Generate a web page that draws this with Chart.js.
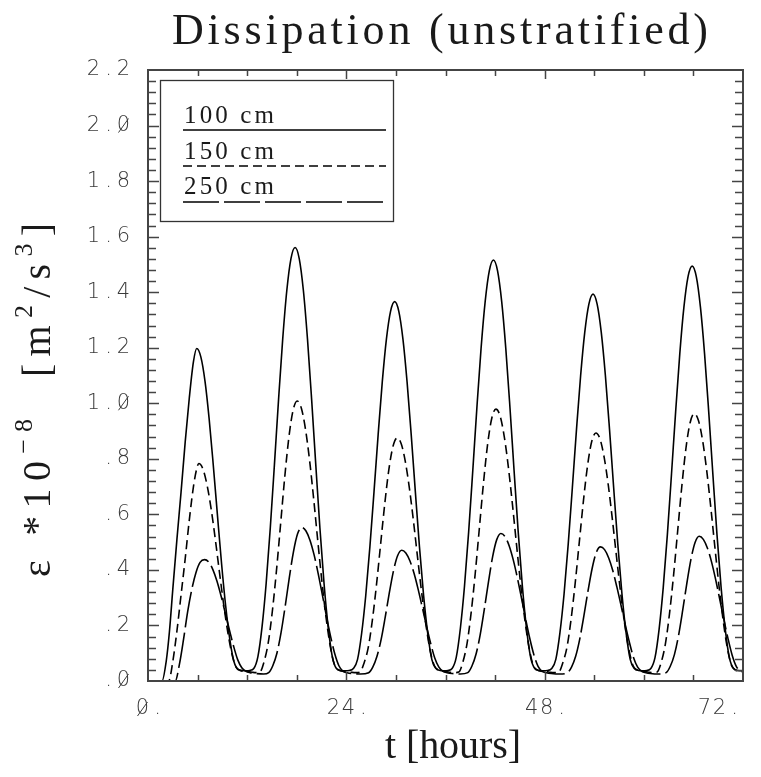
<!DOCTYPE html>
<html lang="en">
<head>
    <meta charset="UTF-8">
    <title>Dissipation (unstratified)</title>
    <script src="https://cdn.jsdelivr.net/npm/chart.js@4.4.1/dist/chart.umd.min.js"></script>
    <style>
        html, body { margin: 0; padding: 0; background: #fff; }
        #chart { display: block; }
    </style>
</head>
<body>
    <canvas id="chart" width="761" height="777"></canvas>

    <script>
        // 100 cm above bed (solid)
        const t100 = [0, 1, 1.7, 2.2, 2.6, 3.0, 3.5, 4.0, 4.5, 5.0, 5.5, 5.9, 6.4, 6.9, 7.4, 7.9, 8.4, 8.9, 9.4, 9.9, 10.4, 10.9, 11.4, 11.9, 12.3,
            12.8, 13.3, 13.8, 14.3, 14.8, 15.3, 15.8, 16.3, 16.8, 17.3, 17.8, 18.3, 18.8, 19.3, 19.8, 20.3, 20.8, 21.3, 21.8, 22.3, 22.8, 23.3, 23.8, 24.35,
            24.85, 25.35, 25.85, 26.35, 26.85, 27.35, 27.85, 28.35, 28.85, 29.35, 29.85, 30.35, 30.85, 31.35, 31.85, 32.35, 32.85, 33.35, 33.85, 34.35, 34.85, 35.35, 35.8,
            36.3, 36.8, 37.3, 37.8, 38.3, 38.8, 39.3, 39.8, 40.3, 40.8, 41.3, 41.8, 42.3, 42.8, 43.3, 43.8, 44.3, 44.8, 45.3, 45.8, 46.3, 46.8, 47.3, 47.8,
            48.35, 48.85, 49.35, 49.85, 50.35, 50.85, 51.35, 51.85, 52.35, 52.85, 53.35, 53.85, 54.35, 54.85, 55.35, 55.85, 56.35, 56.85, 57.35, 57.85, 58.35, 58.85, 59.35, 59.85,
            60.35, 60.85, 61.35, 61.85, 62.35, 62.85, 63.35, 63.85, 64.35, 64.85, 65.35, 65.85, 66.35, 66.85, 67.35, 67.85, 68.35, 68.85, 69.35, 69.85, 70.35, 70.85, 71.35, 72];
        const eps100 = [0, 0, 0, 0.07, 0.18, 0.33, 0.51, 0.68, 0.86, 1.02, 1.15, 1.197, 1.166, 1.079, 0.944, 0.777, 0.598, 0.423, 0.270, 0.150, 0.070, 0.042, 0.038, 0.037, 0.038,
            0.045, 0.088, 0.195, 0.352, 0.552, 0.780, 1.014, 1.231, 1.407, 1.521, 1.561, 1.521, 1.407, 1.231, 1.014, 0.780, 0.552, 0.352, 0.195, 0.088, 0.045, 0.038, 0.037, 0.038,
            0.045, 0.077, 0.171, 0.308, 0.483, 0.682, 0.887, 1.077, 1.231, 1.331, 1.366, 1.331, 1.231, 1.077, 0.887, 0.682, 0.483, 0.308, 0.171, 0.077, 0.045, 0.038, 0.037,
            0.038, 0.045, 0.085, 0.190, 0.342, 0.536, 0.757, 0.985, 1.196, 1.366, 1.477, 1.516, 1.477, 1.366, 1.196, 0.985, 0.757, 0.536, 0.342, 0.190, 0.085, 0.045, 0.038, 0.037,
            0.038, 0.045, 0.078, 0.174, 0.314, 0.493, 0.696, 0.905, 1.099, 1.255, 1.357, 1.393, 1.357, 1.255, 1.099, 0.905, 0.696, 0.493, 0.314, 0.174, 0.078, 0.045, 0.038, 0.037,
            0.038, 0.045, 0.084, 0.187, 0.337, 0.528, 0.746, 0.970, 1.178, 1.346, 1.456, 1.494, 1.456, 1.346, 1.178, 0.970, 0.746, 0.528, 0.337, 0.187, 0.084, 0.045, 0.038, 0.037];

        // 150 cm (dashed)
        const t150 = [0, 1, 2.5, 3.0, 3.5, 4.0, 4.5, 5.0, 5.5, 5.9, 6.15, 6.65, 7.15, 7.65, 8.15, 8.65, 9.15, 9.65, 10.15, 10.65, 11.15, 11.65, 12.2, 12.7, 13.2,
            13.55, 14.05, 14.55, 15.05, 15.55, 16.05, 16.55, 17.05, 17.55, 18.05, 18.55, 19.05, 19.55, 20.05, 20.55, 21.05, 21.55, 22.05, 22.55, 23.05, 23.55, 24.2, 24.7, 25.2,
            25.65, 26.15, 26.65, 27.15, 27.65, 28.15, 28.65, 29.15, 29.65, 30.15, 30.65, 31.15, 31.65, 32.15, 32.65, 33.15, 33.65, 34.15, 34.65, 35.15, 35.65, 36.1, 36.6, 37.1,
            37.6, 38.1, 38.6, 39.1, 39.6, 40.1, 40.6, 41.1, 41.6, 42.1, 42.6, 43.1, 43.6, 44.1, 44.6, 45.1, 45.6, 46.1, 46.6, 47.1, 47.6, 48.2, 48.7, 49.2,
            49.7, 50.2, 50.7, 51.2, 51.7, 52.2, 52.7, 53.2, 53.7, 54.2, 54.7, 55.2, 55.7, 56.2, 56.7, 57.2, 57.7, 58.2, 58.7, 59.2, 59.7, 60.2, 60.7, 61.2,
            61.6, 62.1, 62.6, 63.1, 63.6, 64.1, 64.6, 65.1, 65.6, 66.1, 66.6, 67.1, 67.6, 68.1, 68.6, 69.1, 69.6, 70.1, 70.6, 71.1, 71.6, 72];
        const eps150 = [0, 0, 0, 0.07, 0.18, 0.31, 0.44, 0.58, 0.70, 0.765, 0.783, 0.763, 0.705, 0.618, 0.509, 0.391, 0.277, 0.177, 0.098, 0.05, 0.038, 0.035, 0.034, 0.031, 0.030,
            0.032, 0.07, 0.138, 0.252, 0.399, 0.567, 0.735, 0.878, 0.974, 1.008, 0.983, 0.908, 0.795, 0.655, 0.503, 0.357, 0.228, 0.126, 0.06, 0.04, 0.035, 0.034, 0.031, 0.030,
            0.032, 0.065, 0.12, 0.219, 0.347, 0.493, 0.638, 0.762, 0.845, 0.875, 0.853, 0.788, 0.690, 0.569, 0.437, 0.310, 0.198, 0.109, 0.055, 0.04, 0.035, 0.034, 0.031, 0.030,
            0.032, 0.068, 0.134, 0.245, 0.388, 0.551, 0.714, 0.853, 0.946, 0.979, 0.955, 0.882, 0.772, 0.636, 0.489, 0.347, 0.221, 0.122, 0.058, 0.04, 0.035, 0.034, 0.031, 0.030,
            0.032, 0.066, 0.122, 0.223, 0.354, 0.503, 0.651, 0.778, 0.863, 0.893, 0.871, 0.805, 0.705, 0.580, 0.446, 0.316, 0.202, 0.112, 0.055, 0.04, 0.035, 0.034, 0.031, 0.030,
            0.032, 0.067, 0.132, 0.241, 0.381, 0.542, 0.702, 0.839, 0.930, 0.963, 0.939, 0.868, 0.760, 0.626, 0.481, 0.341, 0.218, 0.120, 0.057, 0.04, 0.035, 0.034];

        // 250 cm (long dashes)
        const t250 = [0, 1, 2, 3.3, 3.8, 4.3, 4.8, 5.3, 5.8, 6.3, 6.85, 7.35, 7.85, 8.35, 8.85, 9.35, 9.85, 10.35, 10.85, 11.35, 11.85, 12.35, 13.0, 14.0,
            14.6, 15.1, 15.6, 16.1, 16.6, 17.1, 17.6, 18.1, 18.6, 19.1, 19.6, 20.1, 20.6, 21.1, 21.6, 22.1, 22.6, 23.1, 23.6, 24.1, 24.7, 25.7,
            26.7, 27.2, 27.7, 28.2, 28.7, 29.2, 29.7, 30.2, 30.7, 31.2, 31.7, 32.2, 32.7, 33.2, 33.7, 34.2, 34.7, 35.2, 35.7, 36.2, 36.8, 37.8,
            38.7, 39.2, 39.7, 40.2, 40.7, 41.2, 41.7, 42.2, 42.7, 43.2, 43.7, 44.2, 44.7, 45.2, 45.7, 46.2, 46.7, 47.2, 47.7, 48.2, 48.8, 49.8,
            50.75, 51.25, 51.75, 52.25, 52.75, 53.25, 53.75, 54.25, 54.75, 55.25, 55.75, 56.25, 56.75, 57.25, 57.75, 58.25, 58.75, 59.25, 59.75, 60.25, 60.8, 61.8,
            62.7, 63.2, 63.7, 64.2, 64.7, 65.2, 65.7, 66.2, 66.7, 67.2, 67.7, 68.2, 68.7, 69.2, 69.7, 70.2, 70.7, 71.2, 71.7, 72];
        const eps250 = [0, 0, 0, 0, 0.06, 0.15, 0.25, 0.33, 0.39, 0.427, 0.437, 0.428, 0.401, 0.359, 0.305, 0.245, 0.184, 0.126, 0.077, 0.048, 0.035, 0.03, 0.027, 0.025,
            0.03, 0.055, 0.10, 0.174, 0.269, 0.372, 0.465, 0.530, 0.553, 0.541, 0.507, 0.454, 0.386, 0.310, 0.232, 0.160, 0.098, 0.055, 0.035, 0.03, 0.027, 0.025,
            0.03, 0.05, 0.088, 0.148, 0.229, 0.317, 0.396, 0.451, 0.471, 0.461, 0.432, 0.387, 0.329, 0.264, 0.198, 0.136, 0.083, 0.05, 0.035, 0.03, 0.027, 0.025,
            0.03, 0.054, 0.097, 0.167, 0.259, 0.357, 0.447, 0.509, 0.531, 0.520, 0.487, 0.436, 0.371, 0.298, 0.223, 0.153, 0.094, 0.053, 0.035, 0.03, 0.027, 0.025,
            0.03, 0.05, 0.089, 0.152, 0.235, 0.325, 0.406, 0.463, 0.483, 0.473, 0.443, 0.397, 0.337, 0.271, 0.203, 0.140, 0.085, 0.05, 0.035, 0.03, 0.027, 0.025,
            0.03, 0.053, 0.095, 0.164, 0.254, 0.351, 0.438, 0.499, 0.521, 0.510, 0.478, 0.428, 0.364, 0.292, 0.219, 0.151, 0.092, 0.052, 0.036, 0.033];

        const seriesLabels = ['100 cm', '150 cm', '250 cm'];
        const xTicks = [0, 24, 48, 72];
        const yTicks = [0, 0.2, 0.4, 0.6, 0.8, 1.0, 1.2, 1.4, 1.6, 1.8, 2.0, 2.2];
        const titleText = 'Dissipation (unstratified)';
        const xTitleText = 't [hours]';

        const SERIF = '"Liberation Serif", "DejaVu Serif", serif';
        const SANS = '"DejaVu Sans", sans-serif';
        const INK = '#1a1a1a';
        const AXIS = '#444';
        const dashes = [[], [9, 5], [36, 5]];

        function points(ts, vs) {
            return ts.map((t, i) => ({ x: t, y: vs[i] }));
        }

        // draws text letter by letter so it fills a given width (wide plotter lettering)
        function spacedText(ctx, parts, x0, y0, width, family) {
            let natural = 0, n = 0;
            parts.forEach(p => {
                ctx.font = p.size + 'px ' + family;
                for (const ch of p.text) { natural += ctx.measureText(ch).width; n++; }
            });
            const gap = n > 1 ? (width - natural) / (n - 1) : 0;
            let x = x0;
            ctx.textAlign = 'left';
            ctx.textBaseline = 'alphabetic';
            parts.forEach(p => {
                ctx.font = p.size + 'px ' + family;
                for (const ch of p.text) {
                    ctx.fillText(ch, x, y0 - (p.rise || 0));
                    x += ctx.measureText(ch).width + gap;
                }
            });
        }

        // tick labels: fixed 15px cells, zeros get the plotter slash
        function tickText(ctx, text, x, y, align) {
            const cell = 15;
            const w = cell * text.length;
            let cx = align === 'right' ? x - w : x - w / 2;
            if (cx + w > 742) cx = 742 - w;
            ctx.font = '300 21px ' + SANS;
            ctx.textAlign = 'center';
            ctx.textBaseline = 'middle';
            ctx.lineWidth = 1;
            for (const ch of text) {
                const mx = cx + cell / 2;
                ctx.fillText(ch, mx, y);
                if (ch === '0') {
                    ctx.beginPath();
                    ctx.moveTo(mx - 5, y + 7);
                    ctx.lineTo(mx + 5, y - 7);
                    ctx.stroke();
                }
                cx += cell;
            }
        }

        const plotFrame = {
            id: 'plotFrame',
            afterDraw(chart) {
                const ctx = chart.ctx;
                const xs = chart.scales.x, ys = chart.scales.y;
                const a = chart.chartArea;
                ctx.save();

                // axes box
                ctx.strokeStyle = AXIS;
                ctx.lineWidth = 2;
                ctx.strokeRect(a.left, a.top, a.right - a.left, a.bottom - a.top);

                // ticks, pointing inwards on all four sides
                ctx.lineWidth = 1.5;
                ctx.beginPath();
                for (let i = 1; i < 55; i++) {
                    const py = Math.round(ys.getPixelForValue(i * 0.04)) + 0.5;
                    const len = i % 5 === 0 ? 11 : 8;
                    ctx.moveTo(a.left, py); ctx.lineTo(a.left + len, py);
                    ctx.moveTo(a.right, py); ctx.lineTo(a.right - len, py);
                }
                for (let h = 6; h < 72; h += 6) {
                    const px = Math.round(xs.getPixelForValue(h)) + 0.5;
                    const len = h % 24 === 0 ? 9 : 6;
                    ctx.moveTo(px, a.bottom); ctx.lineTo(px, a.bottom - len);
                    ctx.moveTo(px, a.top); ctx.lineTo(px, a.top + len);
                }
                ctx.stroke();

                // tick labels
                ctx.fillStyle = '#3a3a3a';
                ctx.strokeStyle = '#3a3a3a';
                yTicks.forEach(v => {
                    let s = v.toFixed(1);
                    if (s.startsWith('0')) s = s.slice(1);
                    tickText(ctx, s, 131, ys.getPixelForValue(v), 'right');
                });
                xTicks.forEach(v => {
                    tickText(ctx, v + '.', xs.getPixelForValue(v) + 2, 709, 'center');
                });

                // titles
                ctx.fillStyle = INK;
                spacedText(ctx, [{ text: titleText, size: 44 }], 172, 44, 536, SERIF);
                spacedText(ctx, [{ text: xTitleText, size: 40 }], 385, 758, 136, SERIF);

                ctx.save();
                ctx.translate(50, 577);
                ctx.rotate(-Math.PI / 2);
                spacedText(ctx, [
                    { text: 'ε *10', size: 40 },
                    { text: '−8', size: 26, rise: 18 },
                    { text: '  [m', size: 40 },
                    { text: '2', size: 26, rise: 18 },
                    { text: '/s', size: 40 },
                    { text: '3', size: 26, rise: 18 },
                    { text: ']', size: 40 }
                ], 0, 0, 354, SERIF);
                ctx.restore();

                // legend box
                ctx.strokeStyle = '#333';
                ctx.lineWidth = 1.3;
                ctx.strokeRect(160.5, 80.5, 233, 141);
                const lineY = [130, 166, 202];
                const textY = [123, 159, 194];
                chart.data.datasets.forEach((ds, i) => {
                    ctx.fillStyle = INK;
                    spacedText(ctx, [{ text: seriesLabels[i], size: 25 }], 184, textY[i], 90, SERIF);
                    ctx.strokeStyle = '#000';
                    ctx.lineWidth = 1.6;
                    ctx.setLineDash(dashes[i]);
                    ctx.beginPath();
                    ctx.moveTo(183, lineY[i]);
                    ctx.lineTo(386, lineY[i]);
                    ctx.stroke();
                });
                ctx.setLineDash([]);
                ctx.restore();
            }
        };

        const seriesData = [[t100, eps100], [t150, eps150], [t250, eps250]];

        new Chart(document.getElementById('chart'), {
            type: 'line',
            data: {
                datasets: seriesData.map((s, i) => ({
                    label: seriesLabels[i],
                    data: points(s[0], s[1]),
                    borderColor: '#000',
                    borderWidth: 1.6,
                    borderDash: dashes[i],
                    pointRadius: 0,
                    fill: false,
                    cubicInterpolationMode: 'monotone'
                }))
            },
            options: {
                responsive: false,
                animation: false,
                devicePixelRatio: 1,
                layout: { padding: { left: 148, top: 70, right: 18, bottom: 96 } },
                plugins: {
                    legend: { display: false },
                    title: { display: false },
                    tooltip: { enabled: false }
                },
                scales: {
                    x: { type: 'linear', min: 0, max: 72, display: false },
                    y: { type: 'linear', min: 0, max: 2.2, display: false }
                }
            },
            plugins: [plotFrame]
        });
    </script>
</body>
</html>
